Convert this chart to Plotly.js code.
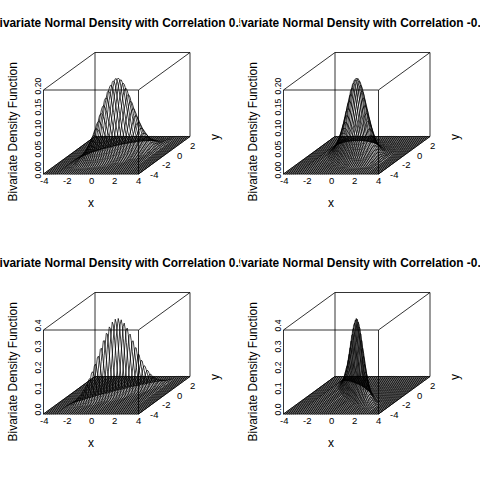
<!DOCTYPE html>
<html>
<head>
<meta charset="utf-8">
<script src="https://cdn.plot.ly/plotly-3.0.1.min.js"></script>
<style>
body { margin: 0; background: #fff; }
#wrap { position: relative; width: 480px; height: 480px; }
.panel { position: absolute; width: 240px; height: 240px; overflow: hidden; }
</style>
</head>
<body>
<div id="wrap">
  <div class="panel" id="panel0" style="left:0px;top:0px"></div>
  <div class="panel" id="panel1" style="left:240px;top:0px"></div>
  <div class="panel" id="panel2" style="left:0px;top:240px"></div>
  <div class="panel" id="panel3" style="left:240px;top:240px"></div>
</div>
<script>
// one panel per correlation, same order as the picture (row by row)
var correlations = [0.5, -0.5, 0.9, -0.9]
var panelTitles = [
    'Bivariate Normal Density with Correlation 0.5',
    'Bivariate Normal Density with Correlation -0.5',
    'Bivariate Normal Density with Correlation 0.9',
    'Bivariate Normal Density with Correlation -0.9'
]
var gridMin = -4
var gridMax = 4
var gridCount = 50

var xTicks = [-4, -2, 0, 2, 4]
var yTicks = [-4, -2, 0, 2]
var zTop = [0.2, 0.2, 0.4, 0.4]
var zTicks = [
    [0, 0.05, 0.1, 0.15, 0.2],
    [0, 0.05, 0.1, 0.15, 0.2],
    [0, 0.1, 0.2, 0.3, 0.4],
    [0, 0.1, 0.2, 0.3, 0.4]
]
var zTickText = [
    ['0.00', '0.05', '0.10', '0.15', '0.20'],
    ['0.00', '0.05', '0.10', '0.15', '0.20'],
    ['0.0', '0.1', '0.2', '0.3', '0.4'],
    ['0.0', '0.1', '0.2', '0.3', '0.4']
]
var xTitle = 'x'
var yTitle = 'y'
var zTitle = 'Bivariate Density Function'

var FONT = 'Liberation Sans, Arial, Helvetica, sans-serif'
var TICK_SIZE = 9.5

// oblique box, in panel pixels
var BOX = { left: 43.5, bottom: 174, width: 95, height: 84, dx: 51.5, dy: 37.5 }

function density(x, y, rho) {
    var s = 1 - rho * rho
    var q = (x * x - 2 * rho * x * y + y * y) / s
    return Math.exp(-q / 2) / (2 * Math.PI * Math.sqrt(s))
}

function project(x, y, z, top) {
    var fx = (x - gridMin) / (gridMax - gridMin)
    var fy = (y - gridMin) / (gridMax - gridMin)
    return [BOX.left + fx * BOX.width + fy * BOX.dx,
            BOX.bottom - z / top * BOX.height - fy * BOX.dy]
}

var grid = []
for (var i = 0; i < gridCount; i++) {
    grid.push(gridMin + i * (gridMax - gridMin) / (gridCount - 1))
}

function drawPanel(k) {
    var rho = correlations[k]
    var top = zTop[k]

    // y runs fastest, then x: points joined in that order
    var sx = [], sy = []
    grid.forEach(function(x) {
        grid.forEach(function(y) {
            var p = project(x, y, density(x, y, rho), top)
            sx.push(p[0])
            sy.push(p[1])
        })
    })

    // the 12 edges of the box
    var bx = [], by = []
    var lim = [[gridMin, gridMax], [gridMin, gridMax], [0, top]]
    var corners = []
    for (var a = 0; a < 2; a++)
        for (var b = 0; b < 2; b++)
            for (var c = 0; c < 2; c++) corners.push([a, b, c])
    corners.forEach(function(p) {
        corners.forEach(function(q) {
            var diff = Math.abs(p[0] - q[0]) + Math.abs(p[1] - q[1]) + Math.abs(p[2] - q[2])
            if (diff === 1 && p[0] + p[1] + p[2] < q[0] + q[1] + q[2]) {
                var u = project(lim[0][p[0]], lim[1][p[1]], lim[2][p[2]], top)
                var v = project(lim[0][q[0]], lim[1][q[1]], lim[2][q[2]], top)
                bx.push(u[0], v[0], null)
                by.push(u[1], v[1], null)
            }
        })
    })

    var ann = []
    ann.push({ x: 118, y: 23, text: '<b>' + panelTitles[k] + '</b>',
        font: { size: 11.9, color: '#000', family: FONT } })

    xTicks.forEach(function(t) {
        var p = project(t, gridMin, 0, top)
        ann.push({ x: p[0], y: 180.5, text: String(t), font: { size: TICK_SIZE, color: '#000', family: FONT } })
    })
    yTicks.forEach(function(t) {
        var p = project(gridMax, t, 0, top)
        ann.push({ x: p[0] + 15, y: p[1], text: String(t), font: { size: TICK_SIZE, color: '#000', family: FONT } })
    })
    zTicks[k].forEach(function(t, j) {
        var p = project(gridMin, gridMin, t, top)
        ann.push({ x: 37.5, y: p[1] - 4, text: zTickText[k][j], textangle: -90,
            font: { size: 8.6, color: '#000', family: FONT } })
    })

    ann.push({ x: 91, y: 203, text: xTitle, font: { size: 12, color: '#000', family: FONT } })
    ann.push({ x: 215, y: 137, text: yTitle, textangle: -90, font: { size: 12, color: '#000', family: FONT } })
    ann.push({ x: 12.5, y: 132, text: zTitle, textangle: -90, font: { size: 12, color: '#000', family: FONT } })

    ann.forEach(function(a) {
        a.xref = 'x'
        a.yref = 'y'
        a.showarrow = false
        a.xanchor = 'center'
        a.yanchor = 'middle'
    })

    Plotly.newPlot('panel' + k, [{
        x: bx, y: by,
        mode: 'lines',
        line: { color: '#000', width: 0.8 },
        hoverinfo: 'skip'
    }, {
        x: sx, y: sy,
        mode: 'lines',
        line: { color: '#000', width: 0.75 },
        hoverinfo: 'skip'
    }], {
        width: 240,
        height: 240,
        margin: { l: 0, r: 0, t: 0, b: 0 },
        showlegend: false,
        paper_bgcolor: '#fff',
        plot_bgcolor: '#fff',
        xaxis: { range: [0, 240], visible: false, fixedrange: true },
        yaxis: { range: [240, 0], visible: false, fixedrange: true },
        annotations: ann
    }, { staticPlot: true })
}

for (var k = 0; k < 4; k++) drawPanel(k)
</script>
</body>
</html>
